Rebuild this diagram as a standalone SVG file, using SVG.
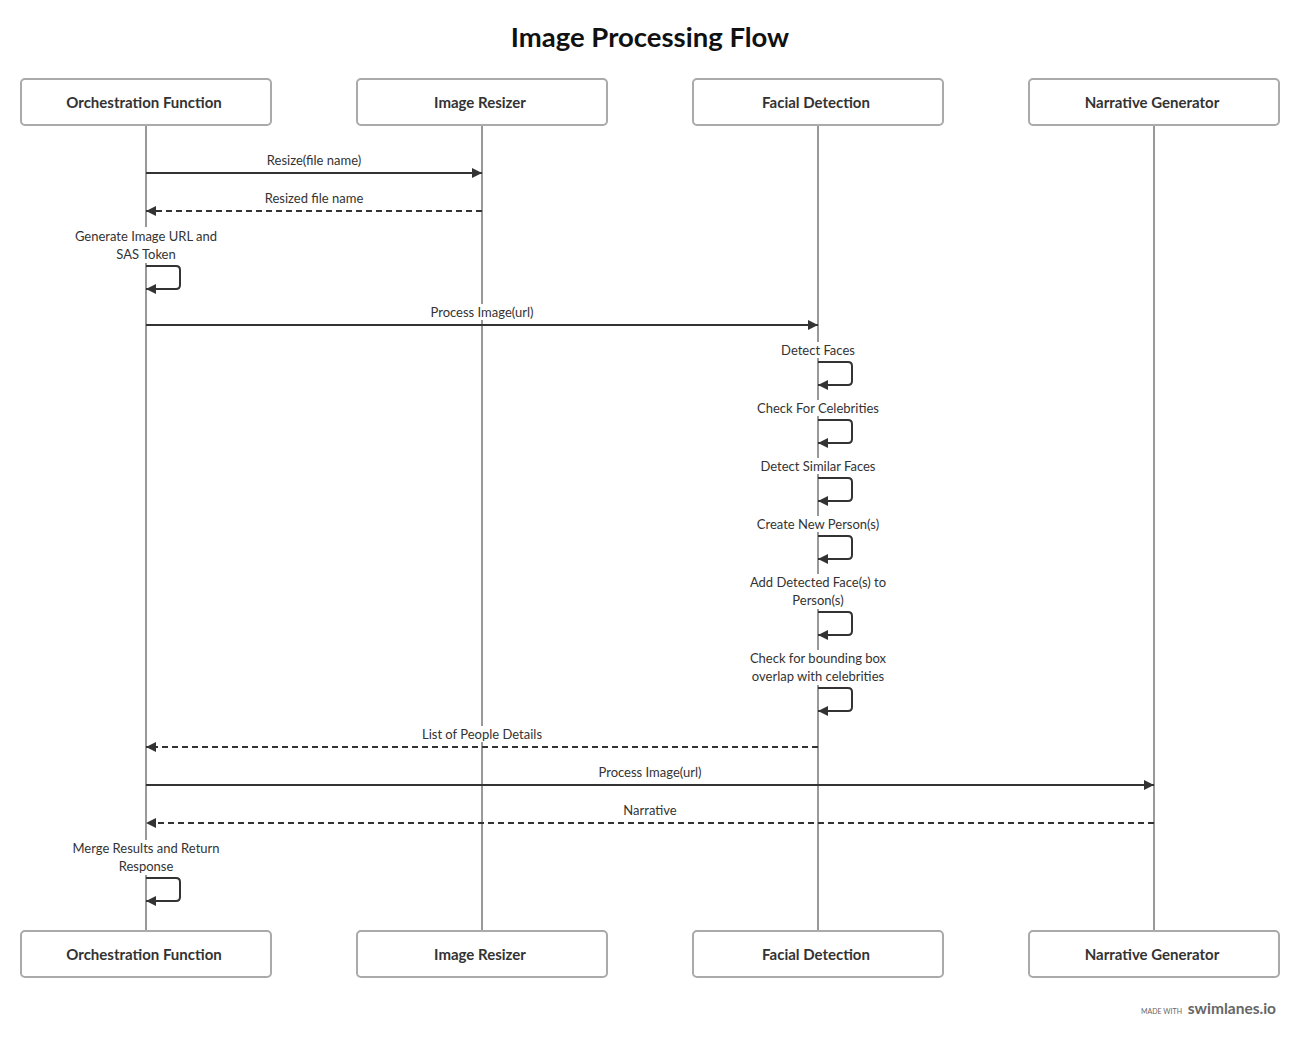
<svg xmlns="http://www.w3.org/2000/svg" width="1300" height="1038" viewBox="0 0 1300 1038">
<style>
.box{fill:#fff;stroke:#aaa;stroke-width:2}
.nt{font-family:Lato,"Liberation Sans",sans-serif;font-size:15px;font-weight:bold;fill:#333;text-anchor:middle}
.life{stroke:#999;stroke-width:2}
.msg{fill:none;stroke:#333;stroke-width:2}
.dash{stroke-dasharray:6 4}
.lb{font-family:Lato,"Liberation Sans",sans-serif;font-size:13px;fill:#333;text-anchor:middle}
.bg{fill:#fff}
</style>
<defs>
<marker id="ah" markerUnits="userSpaceOnUse" markerWidth="10" markerHeight="10" refX="10" refY="5" orient="auto">
<path d="M0,0 L10,5 L0,10 z" fill="#333"/>
</marker>
</defs>
<rect width="1300" height="1038" fill="#fff"/>
<text x="650" y="47" font-family="Lato,'Liberation Sans',sans-serif" font-size="27.5" font-weight="bold" fill="#111" text-anchor="middle">Image Processing Flow</text>

<g id="lifelines">
<line class="life" x1="146" y1="125" x2="146" y2="931"/>
<line class="life" x1="482" y1="125" x2="482" y2="931"/>
<line class="life" x1="818" y1="125" x2="818" y2="931"/>
<line class="life" x1="1154" y1="125" x2="1154" y2="931"/>
</g>

<g id="label-backgrounds">
<rect class="bg" x="72" y="227" width="148" height="36"/>
<rect class="bg" x="426" y="304" width="112" height="16"/>
<rect class="bg" x="779" y="342" width="78" height="16"/>
<rect class="bg" x="755" y="400" width="126" height="16"/>
<rect class="bg" x="757" y="458" width="122" height="16"/>
<rect class="bg" x="754" y="516" width="128" height="16"/>
<rect class="bg" x="747" y="574" width="142" height="35"/>
<rect class="bg" x="747" y="650" width="143" height="35"/>
<rect class="bg" x="419" y="726" width="126" height="16"/>
<rect class="bg" x="69" y="840" width="154" height="35"/>
</g>

<g id="node-orchestration">
<rect class="box" x="21" y="79" width="250" height="46" rx="4"/>
<text class="nt" x="144" y="107.5">Orchestration Function</text>
<rect class="box" x="21" y="931" width="250" height="46" rx="4"/>
<text class="nt" x="144" y="959.5">Orchestration Function</text>
</g>
<g id="node-resizer">
<rect class="box" x="357" y="79" width="250" height="46" rx="4"/>
<text class="nt" x="480" y="107.5">Image Resizer</text>
<rect class="box" x="357" y="931" width="250" height="46" rx="4"/>
<text class="nt" x="480" y="959.5">Image Resizer</text>
</g>
<g id="node-facial">
<rect class="box" x="693" y="79" width="250" height="46" rx="4"/>
<text class="nt" x="816" y="107.5">Facial Detection</text>
<rect class="box" x="693" y="931" width="250" height="46" rx="4"/>
<text class="nt" x="816" y="959.5">Facial Detection</text>
</g>
<g id="node-narrative">
<rect class="box" x="1029" y="79" width="250" height="46" rx="4"/>
<text class="nt" x="1152" y="107.5">Narrative Generator</text>
<rect class="box" x="1029" y="931" width="250" height="46" rx="4"/>
<text class="nt" x="1152" y="959.5">Narrative Generator</text>
</g>

<g id="connectors">
<path class="msg" d="M146,173 H482" marker-end="url(#ah)"/>
<path class="msg dash" d="M482,211 H146" marker-end="url(#ah)"/>
<path class="msg" d="M146,266 H176 Q180,266 180,270 V285 Q180,289 176,289 H146" marker-end="url(#ah)"/>
<path class="msg" d="M146,325 H818" marker-end="url(#ah)"/>
<path class="msg" d="M818,362 H848 Q852,362 852,366 V381 Q852,385 848,385 H818" marker-end="url(#ah)"/>
<path class="msg" d="M818,420 H848 Q852,420 852,424 V439 Q852,443 848,443 H818" marker-end="url(#ah)"/>
<path class="msg" d="M818,478 H848 Q852,478 852,482 V497 Q852,501 848,501 H818" marker-end="url(#ah)"/>
<path class="msg" d="M818,536 H848 Q852,536 852,540 V555 Q852,559 848,559 H818" marker-end="url(#ah)"/>
<path class="msg" d="M818,612 H848 Q852,612 852,616 V631 Q852,635 848,635 H818" marker-end="url(#ah)"/>
<path class="msg" d="M818,688 H848 Q852,688 852,692 V707 Q852,711 848,711 H818" marker-end="url(#ah)"/>
<path class="msg dash" d="M818,747 H146" marker-end="url(#ah)"/>
<path class="msg" d="M146,785 H1154" marker-end="url(#ah)"/>
<path class="msg dash" d="M1154,823 H146" marker-end="url(#ah)"/>
<path class="msg" d="M146,878 H176 Q180,878 180,882 V897 Q180,901 176,901 H146" marker-end="url(#ah)"/>

<text class="lb" x="314" y="164.5">Resize(file name)</text>
<text class="lb" x="314" y="202.5">Resized file name</text>
<text class="lb" x="146" y="240.5">Generate Image URL and</text>
<text class="lb" x="146" y="258.5">SAS Token</text>
<text class="lb" x="482" y="316.5">Process Image(url)</text>
<text class="lb" x="818" y="354.5">Detect Faces</text>
<text class="lb" x="818" y="412.5">Check For Celebrities</text>
<text class="lb" x="818" y="470.5">Detect Similar Faces</text>
<text class="lb" x="818" y="528.5">Create New Person(s)</text>
<text class="lb" x="818" y="586.5">Add Detected Face(s) to</text>
<text class="lb" x="818" y="604.5">Person(s)</text>
<text class="lb" x="818" y="662.5">Check for bounding box</text>
<text class="lb" x="818" y="680.5">overlap with celebrities</text>
<text class="lb" x="482" y="738.5">List of People Details</text>
<text class="lb" x="650" y="776.5">Process Image(url)</text>
<text class="lb" x="650" y="814.5">Narrative</text>
<text class="lb" x="146" y="852.5">Merge Results and Return</text>
<text class="lb" x="146" y="870.5">Response</text>
</g>

<g id="footer">
<text x="1182" y="1014" font-family="Lato,'Liberation Sans',sans-serif" font-size="7" fill="#666" text-anchor="end">MADE WITH</text>
<text x="1276" y="1014" font-family="Lato,'Liberation Sans',sans-serif" font-size="15.5" font-weight="bold" fill="#666" text-anchor="end">swimlanes.io</text>
</g>
</svg>
